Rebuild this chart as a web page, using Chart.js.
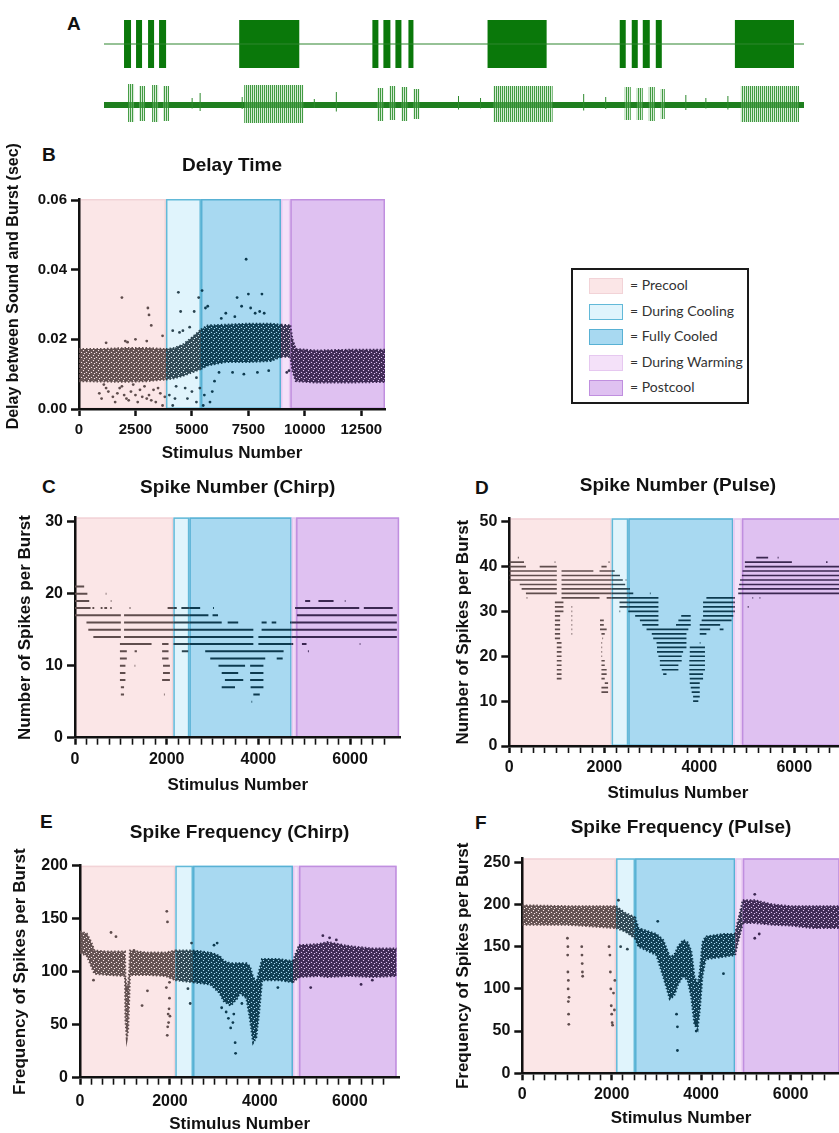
<!DOCTYPE html>
<html>
<head>
<meta charset="utf-8">
<script src="https://cdn.jsdelivr.net/npm/chart.js@4.4.1/dist/chart.umd.min.js"></script>
<style>
  html, body { margin: 0; padding: 0; background: #fff; }
  body { width: 839px; height: 1133px; position: relative; overflow: hidden; font-family: 'Liberation Sans', Arial, sans-serif; }
  canvas { position: absolute; }
  .letter { position: absolute; font: bold 19px 'Liberation Sans', Arial, sans-serif; line-height: 19px; color: #111; }
  #legend { position: absolute; left: 571px; top: 268px; width: 174px; height: 132px; border: 2px solid #1a1a1a; }
  .row { position: absolute; left: 16px; height: 18px; font: 14px Lato, 'Open Sans', sans-serif; color: #333; line-height: 18px; white-space: nowrap; }
  .sw { display: inline-block; width: 34px; height: 16px; vertical-align: middle; margin-right: 7px; box-sizing: border-box; border: 1.5px solid; }
</style>
</head>
<body>
<div class="letter" style="left:67px;top:14px">A</div>
<div class="letter" style="left:42px;top:145px">B</div>
<div class="letter" style="left:42px;top:477px">C</div>
<div class="letter" style="left:475px;top:478px">D</div>
<div class="letter" style="left:40px;top:812px">E</div>
<div class="letter" style="left:475px;top:813px">F</div>

<canvas id="soundTrace" width="700" height="48" style="left:104px;top:20px"></canvas>
<canvas id="nerveTrace" width="700" height="45" style="left:104px;top:80px"></canvas>
<canvas id="delayChart" width="400" height="335" style="left:0px;top:130px"></canvas>
<div id="legend"></div>
<canvas id="chirpNumChart" width="420" height="335" style="left:0px;top:465px"></canvas>
<canvas id="pulseNumChart" width="440" height="345" style="left:420px;top:465px"></canvas>
<canvas id="chirpFreqChart" width="420" height="333" style="left:0px;top:800px"></canvas>
<canvas id="pulseFreqChart" width="440" height="333" style="left:420px;top:800px"></canvas>

<script>
// ---------- phases ----------
const phaseNames = ['Precool', 'During Cooling', 'Fully Cooled', 'During Warming', 'Postcool'];
const phaseFill = ['#fbe6e7', '#e0f4fc', '#a8d9f1', '#f4e1f9', '#dfc1f1'];
const phaseEdge = ['#f2d3d7', '#62b9d8', '#58b1d4', '#e6c8f0', '#c08fdf'];
const dotColor = ['#5f4d4d', '#2b4450', '#0c3a4f', '#35304f', '#3b2751'];

// phase limits (stimulus number) of each panel
const phasesB = [0, 3850, 5400, 8944, 9357, 13549];
const phasesC = [0, 2145, 2494, 4727, 4822, 7070];
const phasesD = [0, 2154, 2505, 4716, 4898, 7100];
const phasesE = [0, 2119, 2513, 4736, 4870, 7041];
const phasesF = [0, 2097, 2522, 4761, 4933, 7100];

// tick labels
const delayXTicks = [0, 2500, 5000, 7500, 10000, 12500];
const delayYTicks = [0, 0.02, 0.04, 0.06];
const chirpNumYTicks = [0, 10, 20, 30];
const pulseNumYTicks = [0, 10, 20, 30, 40, 50];
const chirpFreqYTicks = [0, 50, 100, 150, 200];
const pulseFreqYTicks = [0, 50, 100, 150, 200, 250];
const stimulusLabels = [0, 2000, 4000, 6000];

// ---------- A: recordings (time units along the trace) ----------
const soundBursts = [[20,27],[32,38],[44,50],[55,62],[135,195],
                     [268,274],[279,286],[291,297],[304,309],[383,442],
                     [515,521],[527,533],[538,545],[551,557],[630,689]];
const nerveBursts = [[24,30,21,17],[35,41,19,16],[48,54,20,17],[59,65,19,16],[140,199,20,18],
                     [273,279,17,16],[285,291,19,15],[297,303,18,16],[309,315,16,14],[389,448,19,17],
                     [520,526,18,15],[532,538,17,15],[544,550,18,16],[556,560,16,14],[636,694,19,17]];
const nerveSpikes = [[96,12],[138,8],[232,13],[354,9],[376,7],[479,11],[501,8],[581,10],[601,7],[623,9],[88,7],[210,6]];

// ---------- B: delay time ----------
const delayX    = [0, 1000, 2000, 3000, 3850, 4200, 4600, 5000, 5400, 5700, 6500, 7500, 8500, 8944, 9357, 9450, 9600, 10500, 12000, 13549];
const delayLow  = [0.0080, 0.0079, 0.0078, 0.0080, 0.0085, 0.0088, 0.0095, 0.0105, 0.0115, 0.0125, 0.0135, 0.0135, 0.0138, 0.0150, 0.0150, 0.0110, 0.0080, 0.0076, 0.0076, 0.0078];
const delayHigh = [0.0172, 0.0172, 0.0175, 0.0175, 0.0172, 0.0175, 0.0185, 0.0205, 0.0228, 0.0240, 0.0242, 0.0245, 0.0245, 0.0242, 0.0240, 0.0200, 0.0172, 0.0168, 0.0170, 0.0170];
const delayOutliers = [
  [900,0.0045],[1000,0.003],[1100,0.007],[1200,0.006],[1300,0.005],[1500,0.0035],[1600,0.002],[1700,0.0045],[1800,0.006],
  [1900,0.0065],[2000,0.004],[2100,0.003],[2200,0.0025],[2300,0.005],[2400,0.007],[2500,0.004],[2600,0.002],[2700,0.0055],
  [2800,0.0035],[2900,0.0065],[3000,0.003],[3100,0.004],[3200,0.0025],[3300,0.0055],[3400,0.002],[3500,0.006],[3600,0.0045],
  [3700,0.001],[3800,0.0035],[1200,0.019],[1900,0.032],[2050,0.0195],[2150,0.0192],[2500,0.020],[3000,0.0195],[3050,0.029],
  [3100,0.027],[3200,0.024],[3700,0.021],[4000,0.004],[4150,0.001],[4250,0.003],[4300,0.0065],[4400,0.0335],[4450,0.022],
  [4500,0.028],[4600,0.0225],[4700,0.006],[4800,0.003],[4800,0.011],[4900,0.0235],[5000,0.005],[5100,0.028],[5200,0.002],
  [5200,0.009],[5300,0.032],[5350,0.006],[5450,0.034],[5500,0.001],[5550,0.004],[4150,0.0225],[5600,0.029],[5700,0.0295],
  [5800,0.002],[5900,0.005],[6000,0.008],[6200,0.0105],[6300,0.026],[6500,0.0275],[6800,0.0105],[6900,0.0265],[7000,0.032],
  [7200,0.0295],[7300,0.010],[7400,0.043],[7500,0.033],[7600,0.029],[7800,0.0275],[7900,0.0105],[8000,0.028],[8100,0.033],
  [8200,0.0275],[8400,0.011],[9200,0.0105],[9300,0.011]
];

// ---------- C: spike number (chirp): [spikes, [[from, to], ...]] ----------
const chirpLevels = [
  [24, [[1920,1935]]],
  [23, [[1920,1935]]],
  [22, [[0,15]]],
  [21, [[0,200]]],
  [20, [[0,270],[670,685]]],
  [19, [[0,310],[780,795],[5020,5130],[5310,5640],[5885,5900]]],
  [18, [[0,340],[380,420],[560,600],[640,700],[770,800],[1190,1210],[2020,2220],[2320,2730],[3010,3030],[4800,6200],[6300,6930]]],
  [17, [[0,1000],[1070,2910],[3000,3120],[4840,7020]]],
  [16, [[250,1000],[1070,3200],[3330,3560],[4070,4180],[4290,4390],[4690,7020]]],
  [15, [[290,1000],[1070,3890],[4070,7020]]],
  [14, [[400,1000],[1070,3890],[4000,7020]]],
  [13, [[980,1670],[1900,2040],[2150,3890],[4000,4760],[4950,5050],[6210,6225]]],
  [12, [[980,1130],[1300,1350],[1900,2040],[2330,2470],[2840,4550],[5080,5100]]],
  [11, [[980,1130],[1900,2040],[2950,4150],[4400,4530]]],
  [10, [[980,1100],[1300,1315],[1920,2070],[3130,3710],[3820,4110]]],
  [9,  [[980,1100],[1920,2070],[3200,3560],[3820,4110]]],
  [8,  [[980,1100],[1900,2070],[3270,3670],[3820,4110]]],
  [7,  [[1000,1070],[3200,3490],[3830,4110]]],
  [6,  [[1000,1070],[1940,1955],[3890,4030]]],
  [5,  [[3450,3465],[3850,3865]]],
  [4,  [[3450,3465]]]
];

// ---------- D: spike number (pulse) ----------
const pulseLevels = [
  [42, [[180,200],[5200,5450],[5650,5670]]],
  [41, [[0,310],[955,970],[2090,2110],[4960,5950],[6670,6700]]],
  [40, [[0,350],[640,1000],[1940,2050],[4960,7100]]],
  [39, [[0,1000],[1100,1770],[1900,2220],[4910,7100]]],
  [38, [[0,1000],[1100,2330],[4880,7100]]],
  [37, [[0,1000],[1100,2390],[2450,2465],[4860,7100]]],
  [36, [[220,1000],[1100,2440],[4840,7100]]],
  [35, [[260,1000],[1100,2540],[4820,7100]]],
  [34, [[350,1000],[1100,2610],[2960,2975],[4820,7100]]],
  [33, [[365,380],[1100,1900],[2050,3140],[4150,4750],[5120,5135],[5270,5285]]],
  [32, [[960,1140],[2320,3140],[4080,4750]]],
  [31, [[960,1140],[1310,1325],[2320,3140],[4080,4750],[5020,5040]]],
  [30, [[960,1140],[1310,1325],[2320,2335],[2500,3140],[3700,3715],[4080,4750]]],
  [29, [[960,1070],[1310,1325],[2650,3140],[3620,3820],[4080,4720]]],
  [28, [[960,1070],[1310,1325],[1910,1990],[2750,3140],[3560,3820],[4050,4680]]],
  [27, [[960,1070],[1310,1325],[1910,1990],[2800,3140],[3510,3820],[4010,4440]]],
  [26, [[960,1070],[1310,1325],[1910,2050],[2890,3770],[4010,4230],[4430,4510]]],
  [25, [[960,1070],[1310,1325],[1940,2010],[3000,3730],[4010,4150]]],
  [24, [[960,1070],[1960,1975],[3030,3730]]],
  [23, [[1000,1100],[1940,1955],[3100,3730],[4010,4025]]],
  [22, [[1000,1100],[1940,1955],[3110,3730],[3800,4120]]],
  [21, [[1000,1100],[1940,1955],[3110,3660],[3800,4120]]],
  [20, [[1000,1100],[1940,1955],[3140,3630],[3800,4120]]],
  [19, [[1000,1100],[1940,2010],[3170,3630],[3790,4120]]],
  [18, [[1000,1100],[1940,2010],[3170,3560],[3790,4120]]],
  [17, [[1000,1100],[1940,2050],[3210,3560],[3790,4120]]],
  [16, [[1000,1100],[1940,2050],[3240,3310],[3450,3465],[3790,4080]]],
  [15, [[1000,1100],[1940,2010],[3800,4080]]],
  [14, [[2010,2080],[3450,3465],[3800,4010]]],
  [13, [[1030,1045],[1940,2080],[3820,4010]]],
  [12, [[1030,1045],[1940,2080],[3450,3465],[3840,4010]]],
  [11, [[3870,4010]]],
  [10, [[3450,3465],[3870,3980]]],
  [6,  [[3450,3465]]]
];

// ---------- E: spike frequency (chirp) ----------
const freqChirpX    = [0, 150, 250, 320, 600, 1000, 1010, 1040, 1070, 1095, 1110, 1500, 1900, 2119, 2513, 2900, 3100, 3200, 3350, 3500, 3550, 3700, 3780, 3850, 3920, 3980, 4050, 4400, 4736, 4870, 5300, 5500, 6000, 6500, 7041];
const freqChirpLow  = [118, 115, 105, 98, 97, 96, 55, 37, 45, 75, 97, 97, 96, 92, 90, 88, 80, 72, 68, 75, 80, 75, 55, 33, 38, 60, 92, 92, 90, 95, 96, 95, 96, 95, 96];
const freqChirpHigh = [138, 136, 128, 120, 119, 119, 95, 85, 88, 100, 120, 118, 118, 120, 120, 118, 115, 110, 108, 108, 108, 108, 105, 95, 90, 100, 112, 112, 110, 125, 126, 128, 124, 122, 122];
const freqChirpOutliers = [
  [300,92],[690,137],[800,133],[1200,120],[1380,68],[1500,82],[1920,85],[1930,157],[1945,147],[1940,40],[1950,48],
  [1960,60],[1970,52],[1980,65],[1990,75],[1990,90],[2000,58],[2400,84],[2450,70],[2480,127],[2550,118],[2980,125],
  [3050,127],[3250,62],[3300,56],[3350,47],[3400,52],[3420,60],[3450,33],[3460,23],[3600,70],[3150,66],[4400,85],
  [5130,85],[5400,134],[5550,132],[5700,130],[6250,88],[6500,92]
];

// ---------- F: spike frequency (pulse) ----------
const freqPulseX    = [0, 1000, 2097, 2300, 2522, 2600, 3000, 3150, 3300, 3400, 3480, 3600, 3700, 3780, 3850, 3920, 3970, 4030, 4100, 4500, 4761, 4800, 4933, 5200, 5600, 6000, 6500, 7100];
const freqPulseLow  = [176, 176, 172, 168, 160, 150, 140, 115, 88, 92, 105, 115, 110, 90, 58, 52, 75, 115, 135, 138, 140, 150, 178, 178, 176, 175, 172, 172];
const freqPulseHigh = [199, 198, 198, 190, 185, 172, 165, 158, 138, 140, 150, 158, 155, 145, 115, 105, 120, 155, 162, 165, 165, 175, 205, 205, 200, 198, 198, 198];
const freqPulseOutliers = [
  [1010,160],[1015,140],[1020,150],[1020,120],[1025,100],[1030,85],[1030,110],[1035,70],[1040,58],[1045,90],
  [1330,150],[1335,140],[1340,130],[1345,120],[1350,115],[1940,150],[1960,140],[1970,120],[1980,100],[1990,80],
  [2000,70],[2010,60],[2020,57],[2040,95],[2060,75],[2070,110],[2150,205],[2200,150],[2350,147],[3030,180],
  [3450,70],[3470,55],[3470,27],[3880,60],[3890,50],[4500,118],[5200,212],[5200,160],[5300,165]
];

// ---------- helpers ----------
Chart.defaults.font.family = "'Liberation Sans', Arial, sans-serif";
Chart.defaults.color = '#111';
Chart.defaults.animation = false;

function phaseAt(bounds, x) {
  for (let i = 4; i >= 0; i--) if (x >= bounds[i]) return i;
  return 0;
}

// texture pointillée pour les nuages de points
function speckle(hex) {
  const c = document.createElement('canvas');
  c.width = 5; c.height = 5;
  const g = c.getContext('2d');
  g.fillStyle = hex + 'e8';
  g.fillRect(0, 0, 5, 5);
  g.fillStyle = hex;
  [[0,0],[2,1],[4,2],[1,3],[3,4],[1,0],[3,2],[0,4],[4,1]].forEach(([x, y]) => g.fillRect(x, y, 1, 1));
  [[3,0],[1,2],[4,3]].forEach(([x, y]) => g.clearRect(x, y, 1, 1));
  return g.createPattern(c, 'repeat');
}
const cloudFill = dotColor.map(speckle);

// fond coloré des phases, tiré des limites via l'échelle x
const phaseShade = {
  id: 'phaseShade',
  beforeDraw(chart, args, opts) {
    const b = opts.bounds;
    if (!b) return;
    const {ctx, chartArea: ca, scales: {x}} = chart;
    ctx.save();
    for (let i = 0; i < 5; i++) {
      const x0 = x.getPixelForValue(b[i]);
      const x1 = x.getPixelForValue(b[i + 1]);
      ctx.fillStyle = phaseFill[i];
      ctx.fillRect(x0, ca.top, x1 - x0, ca.bottom - ca.top);
      ctx.strokeStyle = phaseEdge[i];
      ctx.lineWidth = 1.5;
      ctx.strokeRect(x0 + 0.75, ca.top + 0.75, x1 - x0 - 1.5, ca.bottom - ca.top - 1.5);
    }
    ctx.restore();
  }
};
Chart.register(phaseShade);

function stripeData(levels, bounds) {
  const pts = [];
  levels.forEach(([lvl, ranges]) => {
    ranges.forEach(([a, b]) => {
      const cuts = [a, ...bounds.filter(v => v > a && v < b), b];
      for (let i = 0; i < cuts.length - 1; i++) {
        pts.push({x: cuts[i], y: lvl}, {x: cuts[i + 1], y: lvl}, {x: cuts[i + 1], y: null});
      }
    });
  });
  return pts;
}

function makePanel(id, p) {
  const phaseOf = ctx => phaseAt(p.bounds, (ctx.p0.parsed.x + ctx.p1.parsed.x) / 2);
  const datasets = [];
  if (p.band) {
    const [xs, lo, hi] = p.band;
    const edge = {
      pointRadius: 0, borderWidth: 2, borderDash: [1.5, 2], borderColor: dotColor[0],
      segment: {borderColor: ctx => dotColor[phaseOf(ctx)], backgroundColor: ctx => cloudFill[phaseOf(ctx)]}
    };
    datasets.push(Object.assign({data: xs.map((x, i) => ({x, y: hi[i]})), fill: '+1', backgroundColor: cloudFill[0]}, edge));
    datasets.push(Object.assign({data: xs.map((x, i) => ({x, y: lo[i]})), fill: false}, edge));
  }
  if (p.levels) {
    datasets.push({
      data: stripeData(p.levels, p.bounds), pointRadius: 0, borderWidth: p.stripeW, spanGaps: false,
      borderColor: dotColor[0], borderCapStyle: 'butt', segment: {borderColor: ctx => dotColor[phaseOf(ctx)]}
    });
  }
  if (p.dots) {
    datasets.push({
      data: p.dots.map(([x, y]) => ({x, y})), showLine: false, pointRadius: 1.4, pointBorderWidth: 0,
      pointBackgroundColor: ctx => dotColor[phaseAt(p.bounds, ctx.raw ? ctx.raw.x : 0)]
    });
  }
  const isLabel = v => p.xLabels.includes(v);
  return new Chart(document.getElementById(id), {
    type: 'line',
    data: {datasets},
    options: {
      responsive: false,
      events: [],
      layout: {padding: {left: 0, right: p.padR, top: 0, bottom: 0}},
      plugins: {
        legend: {display: false},
        tooltip: {enabled: false},
        title: {
          display: true, text: p.title, fullSize: false, color: '#111',
          font: {size: 19, weight: 'bold', lineHeight: 1.2},
          padding: {top: p.titlePad[0], bottom: p.titlePad[1]}
        },
        phaseShade: {bounds: p.bounds}
      },
      scales: {
        x: {
          type: 'linear', min: 0, max: p.xMax,
          afterBuildTicks: s => {
            if (p.xTicks) s.ticks = p.xTicks.map(v => ({value: v}));
            else s.ticks = s.ticks.filter(t => t.value % p.xStep === 0);
          },
          afterFit: s => { s.height = p.xAxisH; },
          ticks: {
            stepSize: p.xStep, autoSkip: false, maxRotation: 0, padding: p.xTickPad, color: '#111',
            font: {size: p.tickSize, weight: 'bold'},
            callback: v => isLabel(v) ? String(v) : ''
          },
          grid: {
            drawOnChartArea: false, drawTicks: true, tickLength: 7, tickColor: '#111',
            tickWidth: ctx => (ctx.tick && isLabel(ctx.tick.value)) ? 2.5 : 1.6
          },
          border: {display: true, color: '#111', width: 2.5},
          title: {
            display: true, text: 'Stimulus Number', color: '#111',
            font: {size: 17, weight: 'bold', lineHeight: 1},
            padding: {top: 0, bottom: p.xTitlePad}
          }
        },
        y: {
          type: 'linear', min: 0, max: p.yMax,
          afterBuildTicks: s => { s.ticks = p.yTicks.map(v => ({value: v})); },
          afterFit: s => { s.width = p.yAxisW; },
          ticks: {
            padding: 4, color: '#111', font: {size: p.tickSize, weight: 'bold'},
            callback: p.yFmt || (v => String(v))
          },
          grid: {drawOnChartArea: false, drawTicks: true, tickLength: 8, tickColor: '#111', tickWidth: 2.5},
          border: {display: true, color: '#111', width: 2.5},
          title: {
            display: true, text: p.yTitle, color: '#111',
            font: {size: p.yTitleSize || 17, weight: 'bold', lineHeight: 1},
            padding: {top: p.yTitlePad, bottom: 0}
          }
        }
      }
    }
  });
}

// ---------- A ----------
function burstShape(bursts, sign, ampIndex) {
  const pts = [{x: 0, y: 0}];
  bursts.forEach(b => {
    const amp = ampIndex == null ? sign : sign * b[ampIndex];
    pts.push({x: b[0], y: 0}, {x: b[0], y: amp}, {x: b[1], y: amp}, {x: b[1], y: 0});
  });
  pts.push({x: 699, y: 0});
  return pts;
}

const traceOpts = (ymin, ymax) => ({
  responsive: false, events: [],
  layout: {padding: 0},
  plugins: {legend: {display: false}, tooltip: {enabled: false}},
  scales: {
    x: {type: 'linear', min: 0, max: 699, display: false},
    y: {type: 'linear', min: ymin, max: ymax, display: false}
  }
});

new Chart(document.getElementById('soundTrace'), {
  type: 'line',
  data: {datasets: [
    {data: [{x: 0, y: 0}, {x: 699, y: 0}], borderColor: '#2f862f', borderWidth: 1.2, pointRadius: 0},
    {data: burstShape(soundBursts, 1), fill: 'origin', backgroundColor: '#0a780a', borderWidth: 0, pointRadius: 0},
    {data: burstShape(soundBursts, -1), fill: 'origin', backgroundColor: '#0a780a', borderWidth: 0, pointRadius: 0}
  ]},
  options: traceOpts(-1, 1)
});

// rayures verticales pour imiter les potentiels d'action
const pc = document.createElement('canvas');
pc.width = 2; pc.height = 4;
const pctx = pc.getContext('2d');
pctx.fillStyle = 'rgba(150,205,150,0.4)'; pctx.fillRect(0, 0, 2, 4);
pctx.fillStyle = 'rgba(40,140,40,0.85)'; pctx.fillRect(0, 0, 1, 4);
const spikePattern = pctx.createPattern(pc, 'repeat');

const spikeLines = [];
nerveSpikes.forEach(([t, h]) => spikeLines.push({x: t, y: -h * 0.5}, {x: t, y: h}, {x: t, y: null}));

new Chart(document.getElementById('nerveTrace'), {
  type: 'line',
  data: {datasets: [
    {data: burstShape(nerveBursts, 1, 2), fill: 'origin', backgroundColor: spikePattern, borderWidth: 0, pointRadius: 0},
    {data: burstShape(nerveBursts, -1, 3), fill: 'origin', backgroundColor: spikePattern, borderWidth: 0, pointRadius: 0},
    {data: spikeLines, borderColor: '#2f8a2f', borderWidth: 1, pointRadius: 0, spanGaps: false},
    {data: [{x: 0, y: 0}, {x: 699, y: 0}], borderColor: '#1f7f1f', borderWidth: 6, pointRadius: 0}
  ]},
  options: traceOpts(-20, 25)
});

// ---------- legend ----------
const legend = document.getElementById('legend');
phaseNames.forEach((name, i) => {
  const row = document.createElement('div');
  row.className = 'row';
  row.style.top = (6 + i * 25.5) + 'px';
  row.innerHTML = '<span class="sw" style="background:' + phaseFill[i] + ';border-color:' + phaseEdge[i] + '"></span>= ' + name;
  legend.appendChild(row);
});

// ---------- B–F ----------
makePanel('delayChart', {
  title: 'Delay Time', yTitle: '        Delay between Sound and Burst (sec)',
  bounds: phasesB, xMax: 13549, xTicks: delayXTicks, xLabels: delayXTicks, yMax: 0.0603, yTicks: delayYTicks,
  yFmt: v => v.toFixed(2),
  band: [delayX, delayLow, delayHigh], dots: delayOutliers,
  yAxisW: 79, xAxisH: 56, padR: 15, titlePad: [24, 22.2], xTickPad: 5, xTitlePad: 3.5, yTitlePad: 6,
  tickSize: 15, yTitleSize: 16
});

makePanel('chirpNumChart', {
  title: 'Spike Number (Chirp)', yTitle: 'Number of Spikes per Burst',
  bounds: phasesC, xMax: 7100, xStep: 250, xLabels: stimulusLabels, yMax: 30.6, yTicks: chirpNumYTicks,
  levels: chirpLevels, stripeW: 2,
  yAxisW: 75, xAxisH: 62.3, padR: 19.5, titlePad: [11.6, 18], xTickPad: 5.7, xTitlePad: 6.5, yTitlePad: 16.5,
  tickSize: 16
});

makePanel('pulseNumChart', {
  title: 'Spike Number (Pulse)', yTitle: 'Number of Spikes per Burst',
  bounds: phasesD, xMax: 7100, xStep: 250, xLabels: stimulusLabels, yMax: 50.75, yTicks: pulseNumYTicks,
  levels: pulseLevels, stripeW: 1.7,
  yAxisW: 89.3, xAxisH: 64, padR: 13.5, titlePad: [9.6, 20.9], xTickPad: 5.4, xTitlePad: 8.5, yTitlePad: 34.5,
  tickSize: 16
});

makePanel('chirpFreqChart', {
  title: 'Spike Frequency (Chirp)', yTitle: 'Frequency of Spikes per Burst',
  bounds: phasesE, xMax: 7100, xStep: 250, xLabels: stimulusLabels, yMax: 200, yTicks: chirpFreqYTicks,
  band: [freqChirpX, freqChirpLow, freqChirpHigh], dots: freqChirpOutliers,
  yAxisW: 80, xAxisH: 55.3, padR: 20.7, titlePad: [21.6, 21.3], xTickPad: 7.4, xTitlePad: 0, yTitlePad: 11.5,
  tickSize: 16
});

makePanel('pulseFreqChart', {
  title: 'Spike Frequency (Pulse)', yTitle: 'Frequency of Spikes per Burst',
  bounds: phasesF, xMax: 7100, xStep: 250, xLabels: stimulusLabels, yMax: 254.7, yTicks: pulseFreqYTicks,
  band: [freqPulseX, freqPulseLow, freqPulseHigh], dots: freqPulseOutliers,
  yAxisW: 102.3, xAxisH: 59.7, padR: 20.3, titlePad: [16.6, 18.9], xTickPad: 5.1, xTitlePad: 6.5, yTitlePad: 34.5,
  tickSize: 16
});
</script>
</body>
</html>
